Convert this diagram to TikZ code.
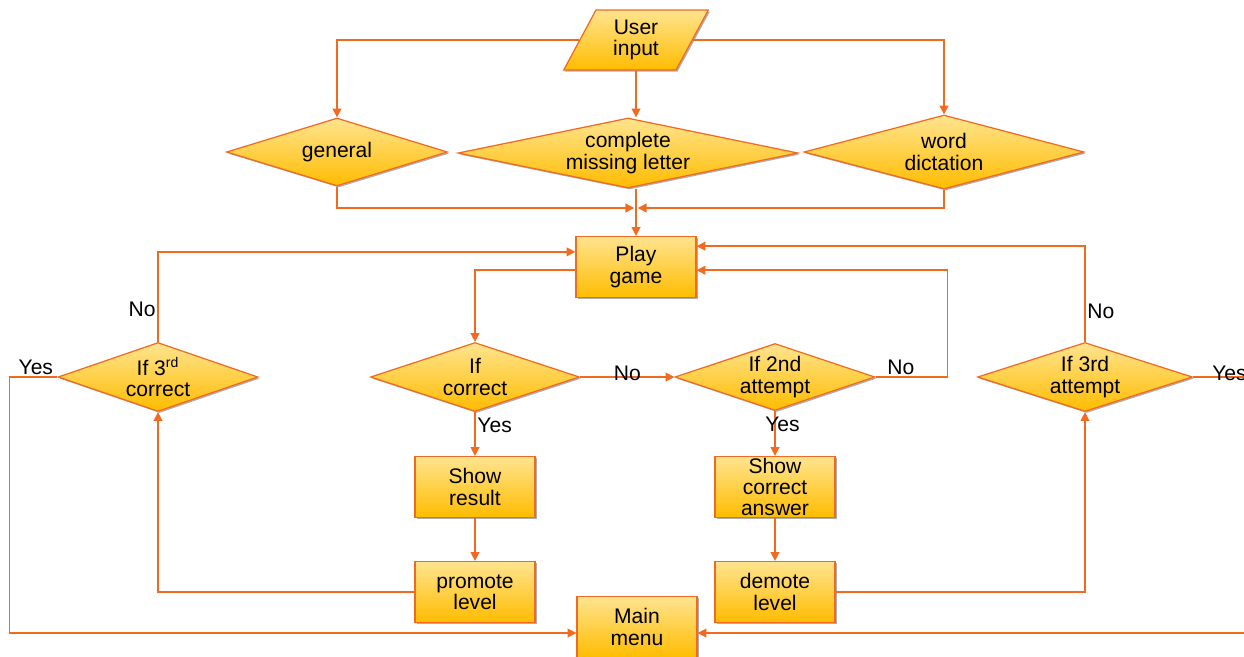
\documentclass[tikz,border=0pt]{standalone}
\usepackage{fontspec}
\setmainfont{Liberation Sans}
\usetikzlibrary{arrows.meta,shapes.geometric,shadows}
\definecolor{edgecol}{HTML}{F26A1F}
\definecolor{filltop}{HTML}{FFE48F}
\definecolor{fillbot}{HTML}{FFBC00}
\tikzstyle{base} = [align=center,draw=edgecol,line width=0.7pt,top color=filltop,bottom color=fillbot,drop shadow={shadow xshift=0.9pt,shadow yshift=-0.9pt,fill=black!70,opacity=0.45},font=\fontsize{12}{12.2}\selectfont]
\tikzstyle{block} = [base,rectangle,minimum width=2.4cm,minimum height=1.22cm,inner sep=0pt]
\tikzstyle{decision} = [base,diamond,inner sep=0pt,shape aspect=3]
\tikzstyle{io} = [base,trapezium,trapezium left angle=66,trapezium right angle=114,trapezium stretches=true,minimum width=2.9cm,minimum height=1.2cm]
\tikzstyle{line} = [draw=edgecol,line width=0.8pt]
\tikzstyle{arrow} = [line,-{Triangle[length=5pt,width=5pt]}]
\tikzstyle{lbl} = [font=\fontsize{12}{12.2}\selectfont,inner sep=1pt]

\begin{document}
\begin{tikzpicture}[x=0.02cm,y=-0.02cm]
				\useasboundingbox (0,0) rectangle (1244,656);
				\node (ui) [io] at (636,40) {User\\input};
				\node (gen) [decision,shape aspect=3.25,minimum width=4.42cm,minimum height=1.36cm] at (337,152) {general};
				\node (cml) [decision,shape aspect=4.9,minimum width=6.8cm,minimum height=1.4cm] at (628,153) {complete\\missing letter};
				\node (wd) [decision,shape aspect=3.8,minimum width=5.6cm,minimum height=1.48cm] at (944,152) {word\\dictation};
				\coordinate (join) at (636,208);
				\node (play) [block] at (636,267) {Play\\game};
				\node (if3c) [decision,shape aspect=2.9,minimum width=4.0cm,minimum height=1.38cm] at (158,377) {If 3\textsuperscript{rd}\\correct};
				\node (ifc) [decision,minimum width=4.18cm,minimum height=1.38cm] at (475,377) {If\\correct};
				\node (if2) [decision,minimum width=4.0cm,minimum height=1.34cm] at (775,377) {If 2nd\\attempt};
				\node (if3a) [decision,shape aspect=3.1,minimum width=4.3cm,minimum height=1.38cm] at (1085,377) {If 3rd\\attempt};
				\node (show) [block] at (475,487) {Show\\result};
				\node (showans) [block] at (775,487) {Show\\correct\\answer};
				\node (prom) [block] at (475,592) {promote\\level};
				\node (dem) [block] at (775,592) {demote\\level};
				\node (menu) [block] at (637,627) {Main\\menu};
				\draw [arrow] (ui.west) -| (gen.north);
				\draw [arrow] (ui.east) -| (wd.north);
				\draw [arrow] (ui.south) -- (cml.north -| ui.south);
				\draw [arrow,shorten >=1pt] (gen.south) |- (join);
				\draw [arrow,shorten >=1pt] (wd.south) |- (join);
				\draw [arrow] (cml.south -| join) -- (play.north);
				\draw [arrow] (if3c.north) |- node[lbl,left,pos=0.18] {No} (play.166);
				\draw [arrow] (if3a.north) |- node[lbl,right,pos=0.16] {No} (play.19);
				\draw [arrow] (play.183) -| (ifc.north);
				\draw [arrow] (ifc.east) -- node[lbl,pos=0.5,yshift=2pt] {No} (if2.west);
				\draw [arrow] (if2.east) -- node[lbl,above,pos=0.35] {No} ++(72,0) |- (play.-3);
				\draw [arrow] (ifc.south) -- node[lbl,right,pos=0.3] {Yes} (show.north);
				\draw [arrow] (if2.south) -- node[lbl,pos=0.3,xshift=0.15cm] {Yes} (showans.north);
				\draw [arrow] (show.south) -- (prom.north);
				\draw [arrow] (showans.south) -- (dem.north);
				\draw [arrow] (prom.west) -| (if3c.south);
				\draw [arrow] (dem.east) -| (if3a.south);
				\draw [arrow] (if3c.west) -- node[lbl,above,pos=0.45] {Yes} ++(-48,0) |- ([yshift=-0.12cm]menu.west);
				\draw [arrow] (if3a.east) -- node[lbl,pos=0.52,yshift=2pt] {Yes} ++(70,0) |- ([yshift=-0.12cm]menu.east);
			\end{tikzpicture}
\end{document}
